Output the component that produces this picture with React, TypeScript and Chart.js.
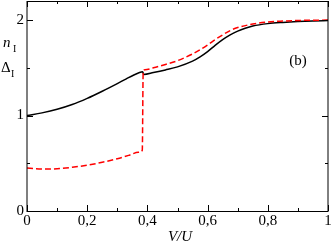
import React, { useEffect, useRef } from "react";
import { Chart, registerables } from "chart.js";

Chart.register(...registerables);

// Black solid curve (n_I)
const blackX = [0, 0.05, 0.1, 0.15, 0.2, 0.25, 0.3, 0.33, 0.355, 0.37, 0.384, 0.388, 0.42, 0.46, 0.5, 0.55, 0.575, 0.6, 0.625, 0.65, 0.675, 0.7, 0.725, 0.75, 0.8, 0.85, 0.9, 0.95, 1.0];
const blackY = [1.0, 1.028, 1.065, 1.115, 1.18, 1.255, 1.335, 1.385, 1.425, 1.445, 1.46, 1.43, 1.45, 1.478, 1.51, 1.57, 1.615, 1.67, 1.735, 1.795, 1.845, 1.885, 1.915, 1.938, 1.963, 1.976, 1.985, 1.991, 1.995];

// Red dashed curve (Delta_I)
const redX = [0, 0.03, 0.07, 0.1, 0.15, 0.2, 0.25, 0.3, 0.34, 0.37, 0.383, 0.386, 0.392, 0.42, 0.46, 0.5, 0.55, 0.575, 0.6, 0.625, 0.65, 0.675, 0.7, 0.75, 0.8, 0.85, 0.9, 1.0];
const redY = [0.45, 0.443, 0.44, 0.443, 0.458, 0.48, 0.51, 0.548, 0.585, 0.615, 0.635, 1.46, 1.48, 1.5, 1.535, 1.575, 1.645, 1.69, 1.74, 1.795, 1.845, 1.89, 1.922, 1.958, 1.98, 1.99, 1.996, 2.0];

const xMajorTicks = [0, 0.2, 0.4, 0.6, 0.8, 1];
const xMinorTicks = [0.1, 0.3, 0.5, 0.7, 0.9];
const yMajorTicks = [0, 1, 2];
const yMinorTicks = [0.5, 1.5];

const FONT = "'Liberation Serif', 'DejaVu Serif', serif";

const framePlugin = {
  id: "frame",
  afterDraw(chart: any) {
    const { ctx, chartArea } = chart;
    const xs = chart.scales.x;
    const ys = chart.scales.y;
    const { left, right, top, bottom } = chartArea;
    ctx.save();
    ctx.strokeStyle = "#000";
    ctx.lineWidth = 1;
    ctx.strokeRect(left, top + 0.5, right - left, bottom - top);
    ctx.beginPath();
    const maj = 6, min = 3;
    for (const v of xMajorTicks) {
      const px = Math.round(xs.getPixelForValue(v)) + 0.5;
      ctx.moveTo(px, bottom); ctx.lineTo(px, bottom - maj);
      ctx.moveTo(px, top); ctx.lineTo(px, top + maj);
    }
    for (const v of xMinorTicks) {
      const px = Math.round(xs.getPixelForValue(v)) + 0.5;
      ctx.moveTo(px, bottom); ctx.lineTo(px, bottom - min);
      ctx.moveTo(px, top); ctx.lineTo(px, top + min);
    }
    for (const v of yMajorTicks) {
      const py = Math.round(ys.getPixelForValue(v)) + 0.5;
      ctx.moveTo(left, py); ctx.lineTo(left + maj, py);
      ctx.moveTo(right, py); ctx.lineTo(right - maj, py);
    }
    for (const v of yMinorTicks) {
      const py = Math.round(ys.getPixelForValue(v)) + 0.5;
      ctx.moveTo(left, py); ctx.lineTo(left + min, py);
      ctx.moveTo(right, py); ctx.lineTo(right - min, py);
    }
    ctx.stroke();

    ctx.fillStyle = "#000";
    ctx.textBaseline = "alphabetic";
    ctx.textAlign = "left";
    ctx.font = `italic 15px ${FONT}`;
    ctx.fillText("n", 3, 47);
    ctx.font = `10px ${FONT}`;
    ctx.fillText("I", 13, 52);
    ctx.font = `15px ${FONT}`;
    ctx.fillText("\u0394", 1, 72);
    ctx.font = `10px ${FONT}`;
    ctx.fillText("I", 11, 77);
    ctx.textAlign = "center";
    ctx.font = `15px ${FONT}`;
    ctx.fillText("(b)", 298, 65);
    ctx.font = `italic 15px ${FONT}`;
    ctx.fillText("V/U", 180, 241);
    ctx.restore();
  },
};

export default function App() {
  const ref = useRef<HTMLCanvasElement>(null);
  useEffect(() => {
    if (!ref.current) return;
    const chart = new Chart(ref.current, {
      type: "scatter",
      data: {
        datasets: [
          {
            data: redX.map((x, i) => ({ x, y: redY[i] })),
            showLine: true,
            borderColor: "#ff0000",
            borderWidth: 1.5,
            borderDash: [6, 3],
            pointRadius: 0,
            cubicInterpolationMode: "monotone",
          },
          {
            data: blackX.map((x, i) => ({ x, y: blackY[i] })),
            showLine: true,
            borderColor: "#000000",
            borderWidth: 1.5,
            pointRadius: 0,
            cubicInterpolationMode: "monotone",
          },
        ],
      },
      options: {
        animation: false,
        responsive: false,
        layout: { padding: { left: 0, top: 1, right: 4, bottom: 0 } },
        plugins: { legend: { display: false }, tooltip: { enabled: false } },
        scales: {
          x: {
            type: "linear",
            min: 0,
            max: 1,
            grid: { display: false, drawTicks: false },
            border: { display: false },
            ticks: {
              stepSize: 0.2,
              includeBounds: false,
              maxRotation: 0,
              padding: 1,
              color: "#000",
              font: { family: FONT, size: 15 },
              callback: (v: any) => {
                const n = Number(v);
                if (Math.abs(n) < 1e-9) return "0";
                if (Math.abs(n - 1) < 1e-9) return "1";
                return n.toFixed(1).replace(".", ",");
              },
            },
            afterFit: (s: any) => {
              s.height = 33;
              s.paddingLeft = 0;
              s.paddingRight = 0;
            },
          },
          y: {
            type: "linear",
            min: 0,
            max: 2.2,
            grid: { display: false, drawTicks: false },
            border: { display: false },
            ticks: {
              stepSize: 1,
              includeBounds: false,
              padding: 3,
              color: "#000",
              font: { family: FONT, size: 15 },
              callback: (v: any) => {
                const n = Number(v);
                return Number.isInteger(n) ? String(n) : "";
              },
            },
            afterFit: (s: any) => {
              s.width = 27;
              s.paddingTop = 0;
              s.paddingBottom = 0;
            },
          },
        },
      },
      plugins: [framePlugin],
    });
    return () => chart.destroy();
  }, []);
  return (
    <div style={{ position: "absolute", left: 0, top: 0, width: 332, height: 244, background: "#fff" }}>
      <canvas ref={ref} width={332} height={244} />
    </div>
  );
}
